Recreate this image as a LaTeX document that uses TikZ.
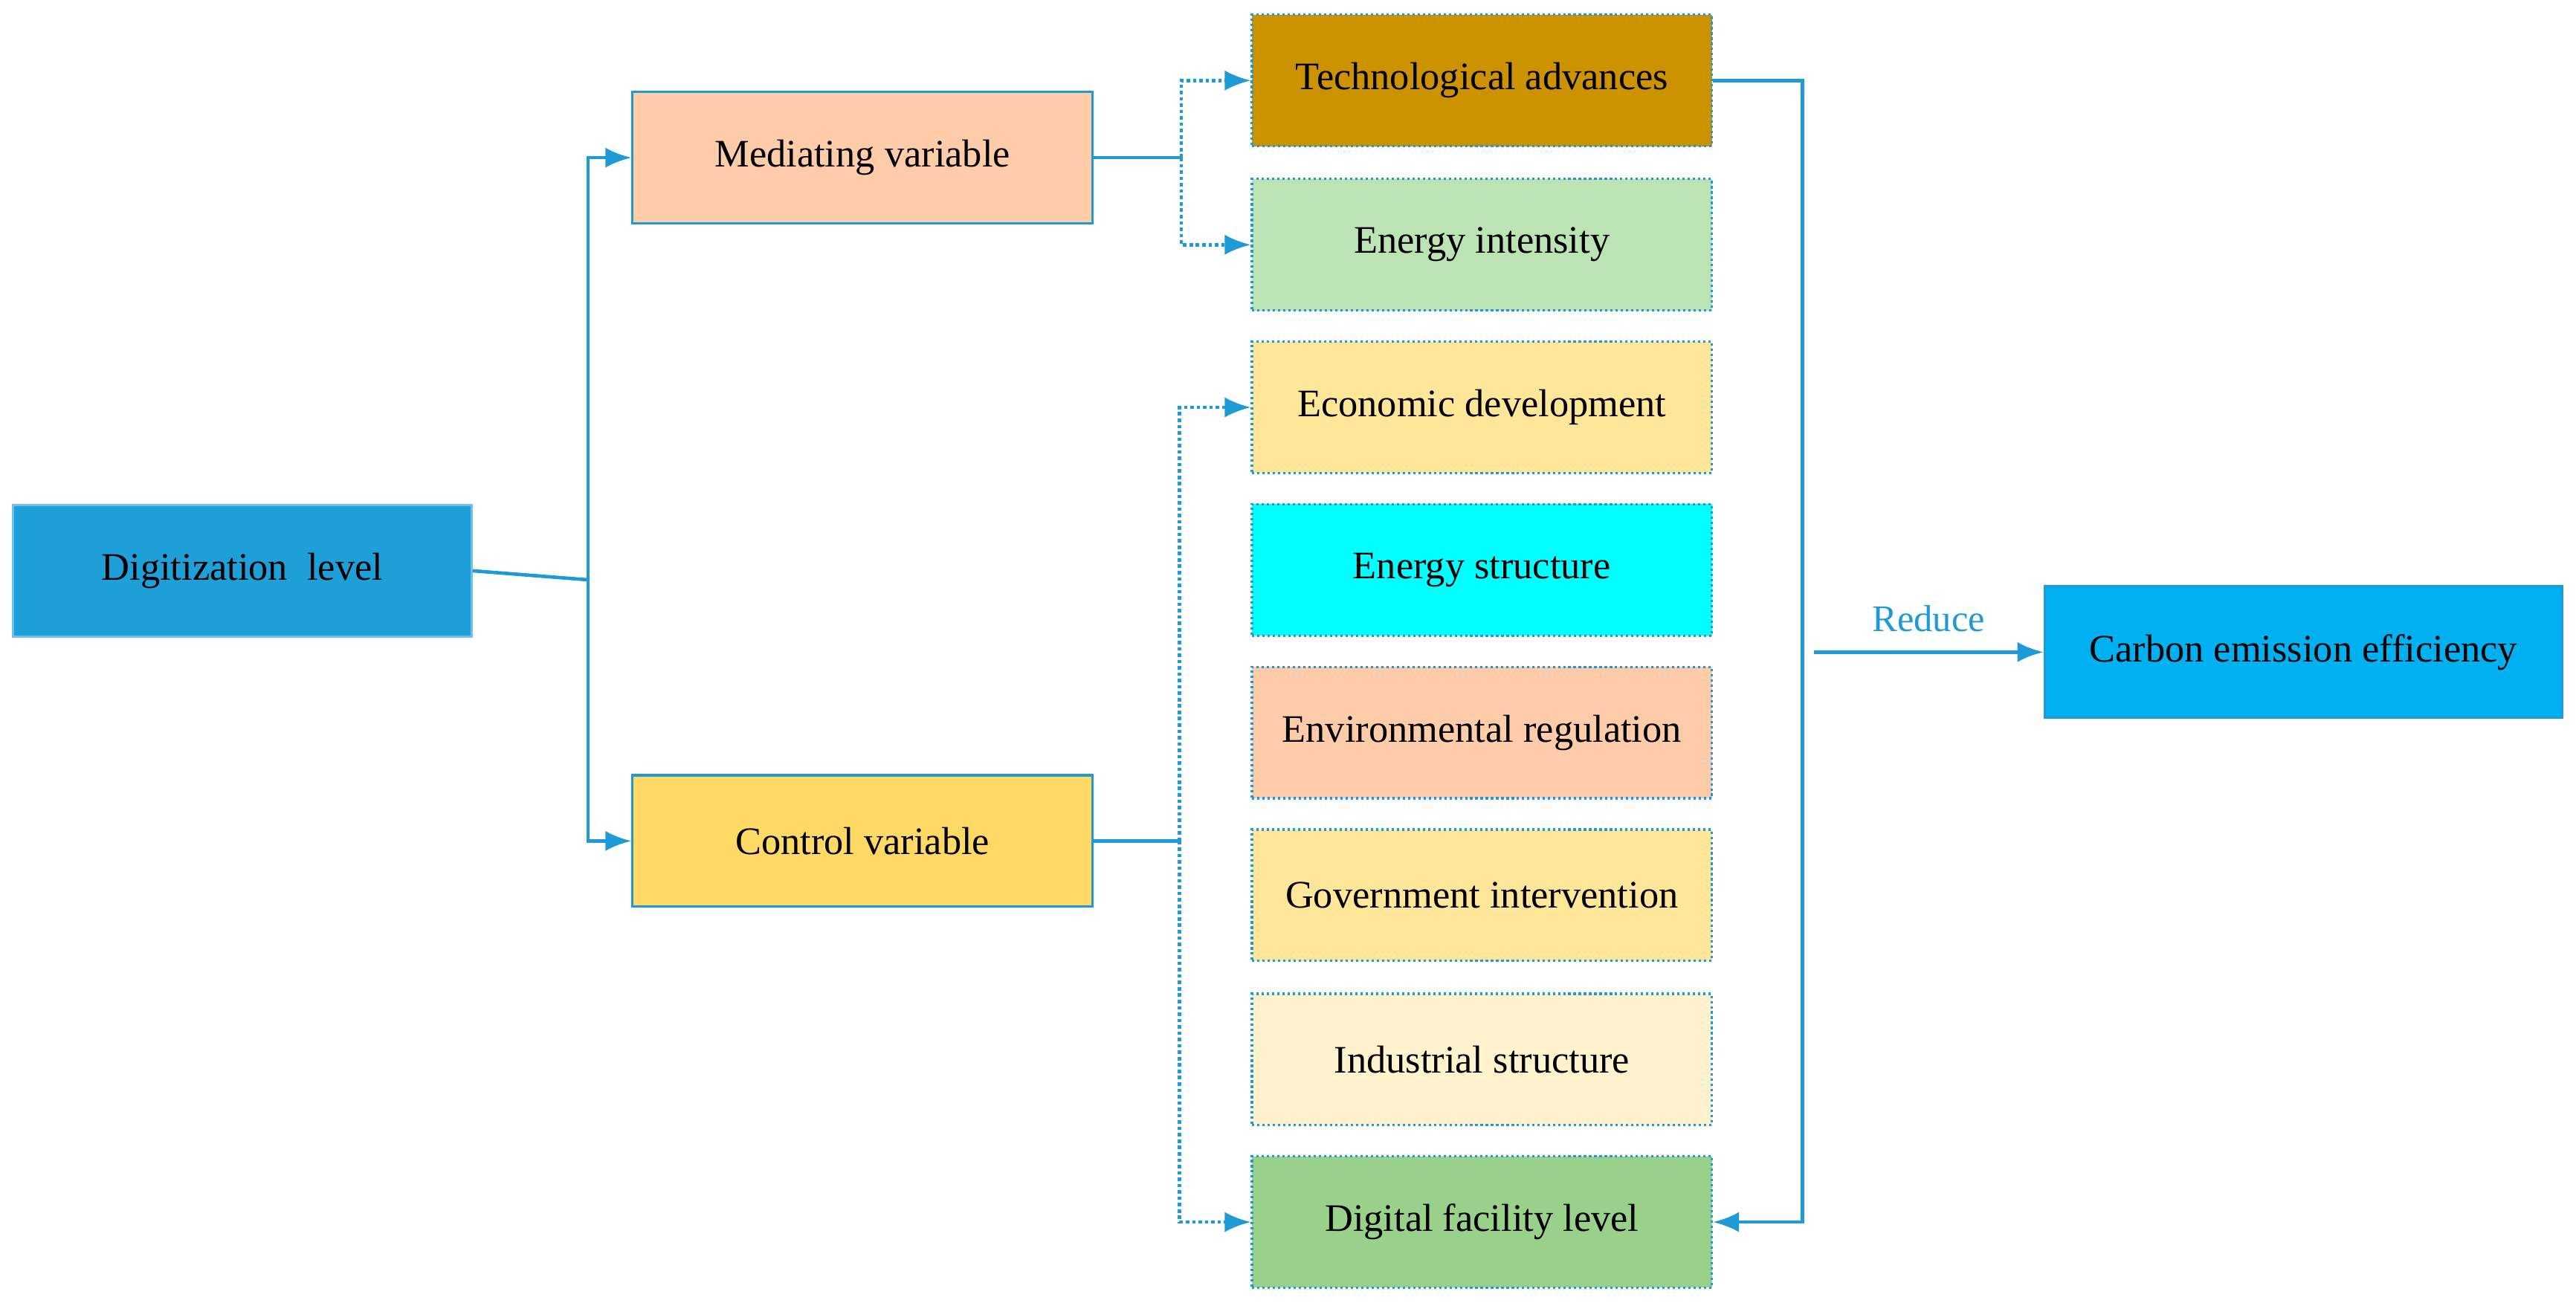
\documentclass[tikz,border=0pt]{standalone}
\usepackage{fontspec}
\setmainfont{Liberation Serif}
\usetikzlibrary{arrows.meta}
\definecolor{lineblue}{HTML}{1E9AD6}
\definecolor{cdig}{HTML}{1E9FD8}
\definecolor{cdigb}{HTML}{6FBFE6}
\definecolor{cpeach}{HTML}{FFCCAA}
\definecolor{cgold}{HTML}{FFD966}
\definecolor{ctech}{HTML}{CC9200}
\definecolor{cei}{HTML}{BBE3B3}
\definecolor{cyel}{HTML}{FFE699}
\definecolor{ccyan}{HTML}{00FFFF}
\definecolor{cind}{HTML}{FFF2CC}
\definecolor{cdfl}{HTML}{99D18A}
\definecolor{cce}{HTML}{00B0F0}
\begin{document}
\begin{tikzpicture}[x=0.02cm, y=-0.02cm,
  box/.style={draw=lineblue, line width=0.8pt, minimum width=5.6cm, minimum height=1.6cm, inner sep=0pt, font=\fontsize{13.5}{16}\selectfont},
  dbox/.style={box, densely dotted},
  conn/.style={draw=lineblue, line width=1.2pt},
  dconn/.style={conn, densely dotted},
  arr/.style={-{Latex[length=9pt,width=7pt]}}]
\useasboundingbox (0,0) rectangle (1568,793);
\node[box, fill=cdig, draw=cdigb, minimum width=5.58cm] (dig) at (147.5,347.5) {Digitization\ \ level};
\node[box, fill=cpeach] (med) at (525,96) {Mediating variable};
\node[box, fill=cgold] (ctl) at (525,512) {Control variable};
\node[dbox, fill=ctech] (tech) at (902,49) {Technological advances};
\node[dbox, fill=cei] (ei) at (902,149) {Energy intensity};
\node[dbox, fill=cyel] (eco) at (902,248) {Economic development};
\node[dbox, fill=ccyan] (es) at (902,347) {Energy structure};
\node[dbox, fill=cpeach] (env) at (902,446) {Environmental regulation};
\node[dbox, fill=cyel] (gov) at (902,545) {Government intervention};
\node[dbox, fill=cind] (ind) at (902,645) {Industrial structure};
\node[dbox, fill=cdfl] (dfl) at (902,744) {Digital facility level};
\node[box, fill=cce, minimum width=6.3cm] (ce) at (1402,397) {Carbon emission efficiency};
% coordinates
\coordinate (j1) at (358,353);
\coordinate (j2) at (719,96);
\coordinate (j3) at (718,512);
\coordinate (j4) at (1097,49);
\coordinate (j5) at (1097,744);
\coordinate (rs) at (1104,397);
% connectors
\draw[conn] (dig.east) -- (j1);
\draw[conn, arr] (j1) |- (med.west);
\draw[conn, arr] (j1) |- (ctl.west);
\draw[conn] (med.east) -- (j2);
\draw[dconn, arr] (j2) |- (tech.west);
\draw[dconn, arr] (j2) |- (ei.west);
\draw[conn] (ctl.east) -- (j3);
\draw[dconn, arr] (j3) |- (eco.west);
\draw[dconn, arr] (j3) |- (dfl.west);
\draw[conn, arr] (tech.east) -- (j4) -- (j5) -- (dfl.east);
\draw[conn, arr] (rs) -- node[above=3pt, text=lineblue, font=\fontsize{13}{15}\selectfont]{Reduce} (ce.west);
\end{tikzpicture}
\end{document}
